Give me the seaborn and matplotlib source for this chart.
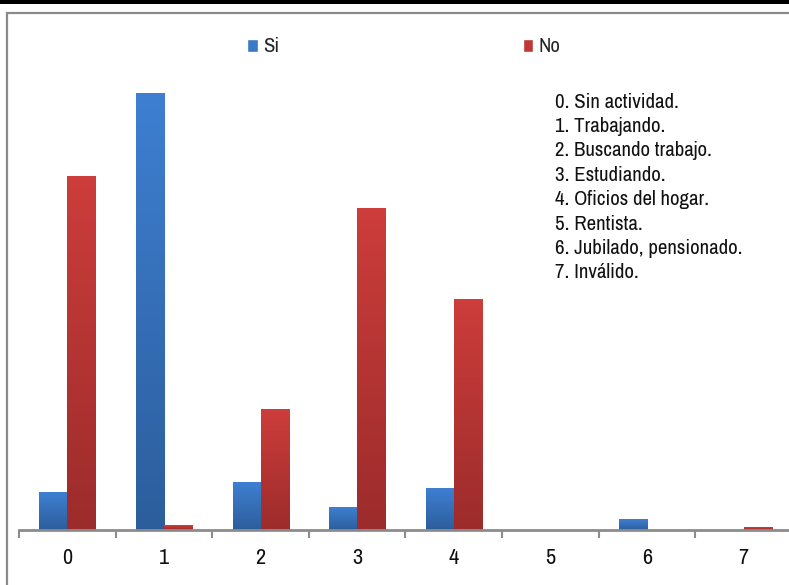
import numpy as np
import pandas as pd
import matplotlib
matplotlib.use("Agg")
import matplotlib.pyplot as plt
import matplotlib.colors as mcolors
from matplotlib.patches import Rectangle
import seaborn as sns

categories = ["0", "1", "2", "3", "4", "5", "6", "7"]
si_values = [8.0, 92.0, 10.1, 4.8, 8.8, 0.0, 2.3, 0.0]
no_values = [74.5, 1.0, 25.3, 67.6, 48.6, 0.0, 0.0, 0.5]
series_names = ["Si", "No"]
legend_notes = [
    "0. Sin actividad.",
    "1. Trabajando.",
    "2. Buscando trabajo.",
    "3. Estudiando.",
    "4. Oficios del hogar.",
    "5. Rentista.",
    "6. Jubilado, pensionado.",
    "7. Inválido.",
]

df = pd.DataFrame({
    "cat": categories * 2,
    "serie": [series_names[0]] * len(categories) + [series_names[1]] * len(categories),
    "valor": si_values + no_values,
})

sns.set_theme(style="white")
plt.rcParams["font.family"] = ["Liberation Sans Narrow", "Archivo Narrow", "DejaVu Sans"]

W, H = 789, 585
fig = plt.figure(figsize=(W / 100, H / 100), dpi=100)
fig.patch.set_facecolor("white")

ax_left, ax_right = 19, 792
ax_bottom_px, ax_top_px = 530, 40
ax = fig.add_axes([ax_left / W, 1 - ax_bottom_px / H,
                   (ax_right - ax_left) / W, (ax_bottom_px - ax_top_px) / H])

colors = {"Si": "#3a78c8", "No": "#be3836"}
sns.barplot(data=df, x="cat", y="valor", hue="serie", order=categories,
            hue_order=series_names, palette=colors, width=0.58,
            saturation=1, ax=ax, legend=True)

px_per_unit = 437 / 92.0
ax.set_ylim(0, (ax_bottom_px - ax_top_px) / px_per_unit)
ax.set_xlim(-0.5, 7.5)

grad_cols = {
    "Si": ("#3e7fd2", "#2c5e9c"),
    "No": ("#cc3d3b", "#9c2c2b"),
}
xlim, ylim = ax.get_xlim(), ax.get_ylim()
bars = [p for p in ax.patches if isinstance(p, Rectangle) and p.get_height() > 0]
for p in bars:
    fc = mcolors.to_hex(p.get_facecolor()[:3])
    key = "Si" if fc == mcolors.to_hex(colors["Si"]) else "No"
    top, bot = grad_cols[key]
    cmap = mcolors.LinearSegmentedColormap.from_list("g", [bot, top])
    grad = np.linspace(1, 0, 64).reshape(-1, 1)
    x, y, w, h = p.get_x(), p.get_y(), p.get_width(), p.get_height()
    ax.imshow(grad, extent=[x, x + w, y, y + h], aspect="auto", cmap=cmap,
              zorder=p.get_zorder() + 0.1, interpolation="bilinear")
ax.set_xlim(*xlim)
ax.set_ylim(*ylim)

for s in ["left", "top", "right"]:
    ax.spines[s].set_visible(False)
ax.spines["bottom"].set_color("#8c8c8c")
ax.spines["bottom"].set_linewidth(2)
ax.set_yticks([])
ax.set_xlabel("")
ax.set_ylabel("")
ax.set_xticks(range(len(categories)))
ax.set_xticklabels(categories, fontsize=16, color="#111111")
ax.set_xticks(np.arange(-0.5, len(categories), 1.0), minor=True)
ax.tick_params(axis="x", which="major", length=0, pad=13)
ax.tick_params(axis="x", which="minor", length=6, width=1.5, color="#8c8c8c", bottom=True)

handles, labels = ax.get_legend_handles_labels()
if ax.legend_:
    ax.legend_.remove()
fig.legend(handles, labels, loc="center", bbox_to_anchor=(0.512, 1 - 47 / H),
           ncol=2, frameon=False, fontsize=15, handlelength=0.5, handleheight=0.6,
           handletextpad=0.25, columnspacing=11.7)

for i, t in enumerate(legend_notes):
    fig.text(555 / W, 1 - (102 + i * 24.4) / H, t, fontsize=15, color="#111111",
             va="center", ha="left")

fig.add_artist(Rectangle((7 / W, -0.1), 1.2, 1 - 13 / H + 0.1, transform=fig.transFigure,
                         fill=False, edgecolor="#8a8a8a", linewidth=1.6, zorder=0))
fig.add_artist(Rectangle((0, 1 - 4 / H), 1, 4 / H, transform=fig.transFigure,
                         facecolor="black", edgecolor="none", zorder=5))

fig.savefig("out.png", dpi=100, facecolor="white")
